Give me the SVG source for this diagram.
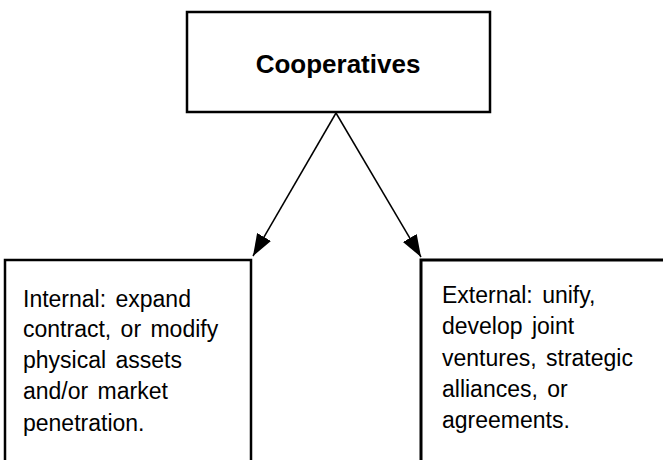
<svg xmlns="http://www.w3.org/2000/svg" width="663" height="460" viewBox="0 0 663 460">
<style>
.box{fill:#fff;stroke:#000;stroke-width:2.5}
.title{font-family:"Liberation Sans",Arial,sans-serif;font-size:26px;font-weight:bold;fill:#000}
.body{font-family:"Liberation Sans",Arial,sans-serif;font-size:23px;fill:#000;word-spacing:3px}
.conn{stroke:#000;stroke-width:1.5;fill:none}
</style>
<defs>
<marker id="arrow" markerUnits="userSpaceOnUse" markerWidth="24" markerHeight="18" refX="22" refY="9" orient="auto">
<path d="M0,1 L22,9 L0,17 Z" fill="#000"/>
</marker>
</defs>
<rect width="663" height="460" fill="#fff"/>
<g id="connectors">
<line class="conn" x1="336" y1="113" x2="253" y2="256" marker-end="url(#arrow)"/>
<line class="conn" x1="336" y1="113" x2="421" y2="257" marker-end="url(#arrow)"/>
</g>
<g id="cooperatives">
<rect class="box" x="187" y="12" width="303" height="100"/>
<text class="title" x="338" y="73" text-anchor="middle">Cooperatives</text>
</g>
<g id="internal">
<rect class="box" x="5" y="260" width="246" height="220"/>
<text class="body" x="23" y="307">Internal: expand</text>
<text class="body" x="23" y="337">contract, or modify</text>
<text class="body" x="23" y="368">physical assets</text>
<text class="body" x="23" y="399">and/or market</text>
<text class="body" x="23" y="431">penetration.</text>
</g>
<g id="external">
<rect class="box" x="421" y="260" width="260" height="220" style="stroke-width:3"/>
<text class="body" x="442" y="303">External: unify,</text>
<text class="body" x="442" y="334">develop joint</text>
<text class="body" x="442" y="366">ventures, strategic</text>
<text class="body" x="442" y="397">alliances, or</text>
<text class="body" x="442" y="428">agreements.</text>
</g>
</svg>
